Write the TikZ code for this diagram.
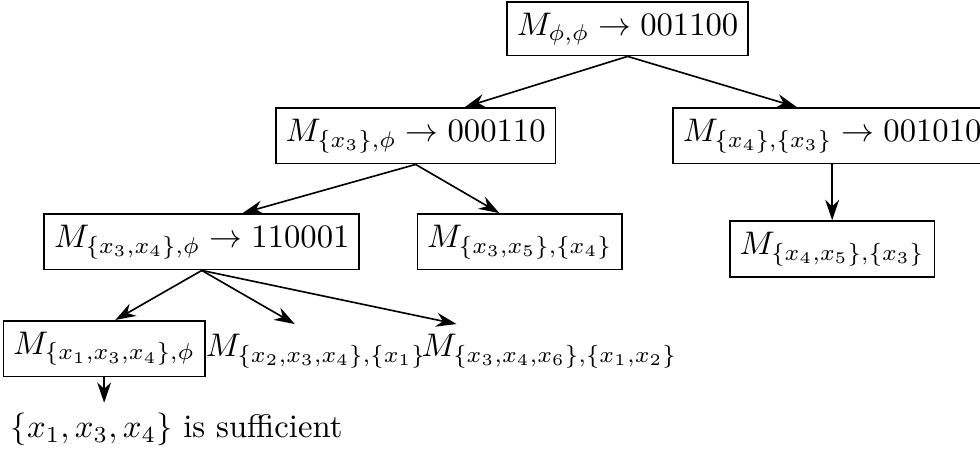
\documentclass[tikz,border=0pt]{standalone}
\usepackage{amsmath,amssymb}
\usetikzlibrary{arrows.meta, positioning}

\begin{document}
\begin{tikzpicture}[
    mbox/.style={rectangle, draw, line width=0.5pt, inner xsep=3pt, minimum height=0.52cm},
    mfree/.style={rectangle, inner sep=3pt},
    edge/.style={-{Stealth[length=2.2mm, width=1.5mm]}, line width=0.5pt},
]
    \useasboundingbox (0,0) rectangle (10.54,4.90);

    % search tree of models
    \node[mbox] (root) at (6.75,4.59) {$M_{\phi,\phi} \rightarrow 001100$};
    \node[mbox] (m3) at (4.47,3.44) {$M_{\{x_3\},\phi} \rightarrow 000110$};
    \node[mbox] (m4) at (8.95,3.44) {$M_{\{x_4\},\{x_3\}} \rightarrow 001010$};
    \node[mbox] (m34) at (2.17,2.30) {$M_{\{x_3,x_4\},\phi} \rightarrow 110001$};
    \node[mbox] (m35) at (5.59,2.30) {$M_{\{x_3,x_5\},\{x_4\}}$};
    \node[mbox, below=0.6cm of m4] (m45) {$M_{\{x_4,x_5\},\{x_3\}}$};
    \node[mbox] (m134) at (1.12,1.15) {$M_{\{x_1,x_3,x_4\},\phi}$};
    \node[mfree] (m234) at (3.40,1.12) {$M_{\{x_2,x_3,x_4\},\{x_1\}}$};
    \node[mfree] (m346) at (5.91,1.12) {$M_{\{x_3,x_4,x_6\},\{x_1,x_2\}}$};
    \node[mfree] (done) at (1.90,0.28) {$\{x_1,x_3,x_4\}$ is sufficient};

    \draw[edge] (root.south) -- ([xshift=0.53cm]m3.north);
    \draw[edge] (root.south) -- ([xshift=-0.38cm]m4.north);
    \draw[edge] (m3.south) -- ([xshift=0.44cm]m34.north);
    \draw[edge] (m3.south) -- ([xshift=-0.22cm]m35.north);
    \draw[edge] (m4.south) -- (m4.south |- m45.north);
    \draw[edge] (m34.south) -- ([xshift=0.12cm]m134.north);
    \draw[edge] (m34.south) -- ([xshift=-0.23cm]m234.north);
    \draw[edge] (m34.south) -- ([xshift=-1.0cm]m346.north);
    \draw[edge] (m134.south) -- (m134.south |- done.north);
\end{tikzpicture}
\end{document}
